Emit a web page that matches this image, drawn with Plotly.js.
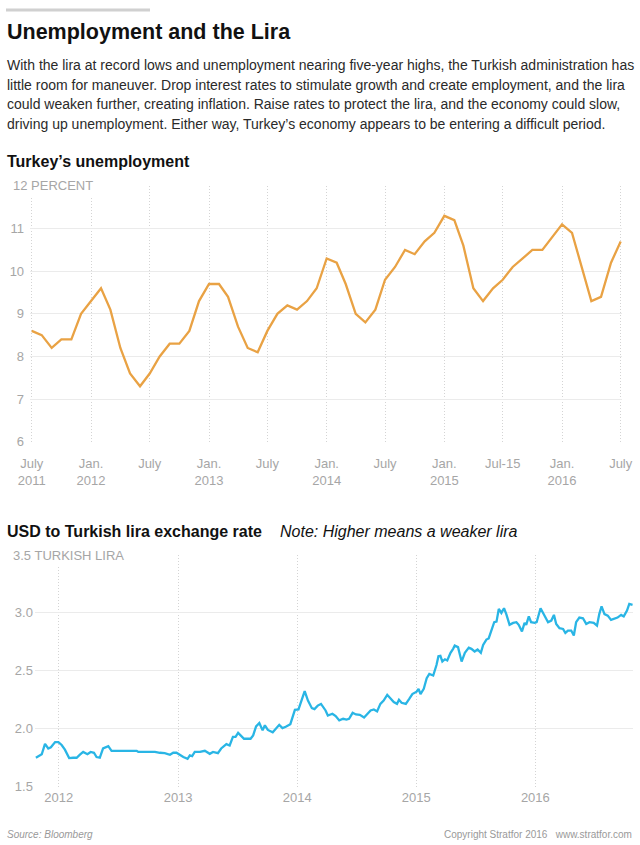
<!DOCTYPE html>
<html>
<head>
<meta charset="utf-8">
<script src="https://cdn.plot.ly/plotly-3.0.1.min.js"></script>
<style>html,body{margin:0;padding:0;background:#fff;}#chart{width:640px;height:845px;}</style>
</head>
<body>
<div id="chart"></div>
<script>
// ---------- Data ----------
const unempMonths = ['2011-07','2011-08','2011-09','2011-10','2011-11','2011-12',
  '2012-01','2012-02','2012-03','2012-04','2012-05','2012-06','2012-07','2012-08','2012-09','2012-10','2012-11','2012-12',
  '2013-01','2013-02','2013-03','2013-04','2013-05','2013-06','2013-07','2013-08','2013-09','2013-10','2013-11','2013-12',
  '2014-01','2014-02','2014-03','2014-04','2014-05','2014-06','2014-07','2014-08','2014-09','2014-10','2014-11','2014-12',
  '2015-01','2015-02','2015-03','2015-04','2015-05','2015-06','2015-07','2015-08','2015-09','2015-10','2015-11','2015-12',
  '2016-01','2016-02','2016-03','2016-04','2016-05','2016-06','2016-07'];
const unempRate = [8.6,8.5,8.2,8.4,8.4,9.0,
  9.3,9.6,9.1,8.2,7.6,7.3,7.6,8.0,8.3,8.3,8.6,9.3,
  9.7,9.7,9.4,8.7,8.2,8.1,8.6,9.0,9.2,9.1,9.3,9.6,
  10.3,10.2,9.7,9.0,8.8,9.1,9.8,10.1,10.5,10.4,10.7,10.9,
  11.3,11.2,10.6,9.6,9.3,9.6,9.8,10.1,10.3,10.5,10.5,10.8,
  11.1,10.9,10.1,9.3,9.4,10.2,10.7];
const unempTickVals = ['2011-07-01','2012-01-01','2012-07-01','2013-01-01','2013-07-01','2014-01-01','2014-07-01','2015-01-01','2015-07-01','2016-01-01','2016-07-01'];
const unempTickText = ['July<br>2011','Jan.<br>2012','July','Jan.<br>2013','July','Jan.<br>2014','July','Jan.<br>2015','Jul-15','Jan.<br>2016','July'];
const unempYTicks = [6,7,8,9,10,11,12];
const unempYText = ['6','7','8','9','10','11',''];

const fxDates = ['2011-10-23','2011-11-10','2011-11-20','2011-11-30','2011-12-08','2011-12-21','2011-12-31',
  '2012-01-10','2012-01-20','2012-02-02','2012-02-14','2012-02-25','2012-03-06','2012-03-16','2012-03-29','2012-04-08','2012-04-18','2012-04-26',
  '2012-05-06','2012-05-16','2012-06-01','2012-06-11','2012-06-26','2012-07-17','2012-08-06','2012-08-27','2012-09-01','2012-09-26',
  '2012-10-06','2012-10-22','2012-11-06','2012-11-21','2012-12-07','2012-12-17','2012-12-27',
  '2013-01-07','2013-01-17','2013-01-30','2013-02-06','2013-02-13','2013-02-21','2013-03-09','2013-03-24','2013-04-08','2013-04-18',
  '2013-05-03','2013-05-13','2013-05-29','2013-06-08','2013-06-18','2013-06-26','2013-07-04','2013-07-14','2013-07-22','2013-08-03',
  '2013-08-11','2013-08-19','2013-08-28','2013-09-07','2013-09-17','2013-09-24','2013-10-03','2013-10-18','2013-10-28','2013-11-07',
  '2013-11-17','2013-11-27','2013-12-11','2013-12-18','2013-12-25',
  '2014-01-05','2014-01-13','2014-01-24','2014-02-03','2014-02-15','2014-02-23','2014-03-05','2014-03-15','2014-03-29','2014-04-05',
  '2014-04-19','2014-04-29','2014-05-10','2014-05-22','2014-06-01','2014-06-09','2014-06-20','2014-06-30','2014-07-12','2014-07-25',
  '2014-08-04','2014-08-14','2014-08-24','2014-09-03','2014-09-13','2014-09-23','2014-10-04','2014-10-14','2014-10-24','2014-11-03',
  '2014-11-09','2014-11-17','2014-11-30','2014-12-10','2014-12-20',
  '2015-01-02','2015-01-08','2015-01-14','2015-01-24','2015-02-02','2015-02-10','2015-02-22','2015-03-04','2015-03-10','2015-03-16',
  '2015-03-22','2015-03-30','2015-04-06','2015-04-16','2015-04-24','2015-04-29','2015-05-09','2015-05-20','2015-05-30','2015-06-11',
  '2015-06-19','2015-06-29','2015-07-08','2015-07-18','2015-07-25','2015-08-04','2015-08-11','2015-08-19','2015-08-28','2015-09-04',
  '2015-09-11','2015-09-19','2015-09-27','2015-10-04','2015-10-14','2015-10-25','2015-11-04','2015-11-11','2015-11-21','2015-11-29',
  '2015-12-04','2015-12-12','2015-12-19','2015-12-30',
  '2016-01-05','2016-01-17','2016-01-27','2016-02-09','2016-02-19','2016-02-27','2016-03-05','2016-03-15','2016-03-26','2016-04-02',
  '2016-04-10','2016-04-20','2016-04-28','2016-05-05','2016-05-15','2016-05-26','2016-06-05','2016-06-15','2016-06-28','2016-07-08',
  '2016-07-15','2016-07-22','2016-07-31','2016-08-10','2016-08-20','2016-08-30','2016-09-09','2016-09-20','2016-09-28','2016-10-08',
  '2016-10-15','2016-10-25'];
const fxRate = [1.75,1.78,1.87,1.83,1.84,1.885,1.885,
  1.86,1.82,1.747,1.75,1.75,1.776,1.80,1.78,1.80,1.793,1.756,
  1.75,1.83,1.85,1.81,1.81,1.81,1.81,1.81,1.80,1.80,
  1.805,1.80,1.793,1.79,1.776,1.793,1.793,
  1.77,1.756,1.74,1.77,1.764,1.80,1.80,1.81,1.784,1.80,
  1.79,1.83,1.868,1.856,1.93,1.93,1.965,1.94,1.914,1.914,
  1.914,1.943,2.02,2.05,1.986,2.03,1.99,1.97,2.0,2.034,
  2.006,2.017,2.04,2.10,2.164,
  2.167,2.24,2.325,2.244,2.178,2.17,2.20,2.215,2.158,2.115,
  2.13,2.11,2.072,2.086,2.08,2.086,2.138,2.124,2.12,2.098,
  2.13,2.158,2.167,2.15,2.215,2.244,2.293,2.264,2.23,2.215,
  2.25,2.224,2.215,2.256,2.30,
  2.32,2.345,2.30,2.345,2.437,2.474,2.46,2.55,2.626,2.63,
  2.58,2.60,2.59,2.655,2.69,2.718,2.705,2.58,2.655,2.70,
  2.69,2.667,2.684,2.655,2.724,2.77,2.78,2.848,2.92,2.925,
  3.034,3.0,3.04,2.99,2.897,2.914,2.92,2.897,2.84,2.914,
  2.897,2.97,2.92,2.914,
  2.92,3.04,2.99,2.92,2.934,2.983,2.905,2.868,2.862,2.828,
  2.848,2.848,2.805,2.92,2.96,2.954,2.905,2.92,2.914,2.89,
  2.99,3.057,2.99,2.977,2.94,2.948,2.96,2.983,2.97,3.02,
  3.078,3.07];
const fxTickVals = ['2012-01-01','2013-01-01','2014-01-01','2015-01-01','2016-01-01'];
const fxTickText = ['2012','2013','2014','2015','2016'];
const fxYTicks = [1.5,2.0,2.5,3.0,3.5];
const fxYText = ['1.5','2.0','2.5','3.0',''];

const paragraph = [
  'With the lira at record lows and unemployment nearing five-year highs, the Turkish administration has',
  'little room for maneuver. Drop interest rates to stimulate growth and create employment, and the lira',
  'could weaken further, creating inflation. Raise rates to protect the lira, and the economy could slow,',
  'driving up unemployment. Either way, Turkey\u2019s economy appears to be entering a difficult period.'
];

// ---------- Layout helpers ----------
const W = 640, H = 845;
const px = x => x / W;
const py = y => 1 - y / H;
const FONT = 'Liberation Sans, Helvetica, Arial, sans-serif';
const GREY = '#a6a6a6';

const annotations = [];
function txt(text, x, y, opts) {
  annotations.push(Object.assign({
    text: text, xref: 'paper', yref: 'paper', x: px(x), y: py(y),
    xanchor: 'left', yanchor: 'middle', showarrow: false,
    font: {family: FONT, size: 14, color: '#222'}
  }, opts || {}));
}
txt('<b>Unemployment and the Lira</b>', 5, 32, {font: {family: FONT, size: 21.5, color: '#111'}});
paragraph.forEach((line, i) => txt(line, 5, 65 + i * 19.6, {font: {family: FONT, size: 14, color: '#2a2a2a'}}));
txt('<b>Turkey\u2019s unemployment</b>', 5, 161, {font: {family: FONT, size: 16, color: '#111'}});
txt('<b>USD to Turkish lira exchange rate</b>', 5, 531, {font: {family: FONT, size: 16, color: '#111'}});
txt('<i>Note: Higher means a weaker lira</i>', 278, 531, {font: {family: FONT, size: 16, color: '#111'}});
txt('12 PERCENT', 9, 186, {font: {family: FONT, size: 13, color: GREY}, bgcolor: '#fff', borderpad: 3});
txt('3.5 TURKISH LIRA', 9, 555, {font: {family: FONT, size: 13, color: GREY}, bgcolor: '#fff', borderpad: 3});
txt('<i>Source: Bloomberg</i>', 5, 834, {font: {family: FONT, size: 10, color: '#999'}});
txt('Copyright Stratfor 2016   www.stratfor.com', 634, 834, {xanchor: 'right', font: {family: FONT, size: 10, color: '#999'}});

const tickFont = {family: FONT, size: 13, color: GREY};

const traces = [
  {x: unempMonths, y: unempRate, type: 'scatter', mode: 'lines', xaxis: 'x', yaxis: 'y',
   line: {color: '#e9a244', width: 2.3}, hoverinfo: 'x+y'},
  {x: fxDates, y: fxRate, type: 'scatter', mode: 'lines', xaxis: 'x2', yaxis: 'y2',
   line: {color: '#29b5e5', width: 2.3}, hoverinfo: 'x+y'}
];

const layout = {
  width: W, height: H,
  margin: {l: 0, r: 0, t: 0, b: 0},
  paper_bgcolor: '#fff', plot_bgcolor: '#fff',
  showlegend: false,
  font: {family: FONT},
  xaxis: {type: 'date', range: ['2011-06-26', '2016-07-06'], domain: [px(30.1), px(622.3)], anchor: 'y',
    tickvals: unempTickVals, ticktext: unempTickText, ticks: '', tickfont: tickFont,
    showgrid: true, gridcolor: '#d4d4d4', griddash: '1px,2px', gridwidth: 1,
    zeroline: false, showline: false, fixedrange: true, ticklabelstandoff: 12},
  yaxis: {range: [6, 12], domain: [py(441.7), py(186)], anchor: 'x',
    tickvals: unempYTicks, ticktext: unempYText, ticks: '', tickfont: tickFont,
    showgrid: true, gridcolor: '#ebebeb', gridwidth: 1, zeroline: false, showline: false, fixedrange: true,
    ticklabelstandoff: 5},
  xaxis2: {type: 'date', range: ['2011-10-20', '2016-10-27'], domain: [px(34.9), px(633.2)], anchor: 'y2',
    tickvals: fxTickVals, ticktext: fxTickText, ticks: '', tickfont: tickFont,
    showgrid: true, gridcolor: '#d4d4d4', griddash: '1px,2px', gridwidth: 1,
    zeroline: false, showline: false, fixedrange: true, ticklabelstandoff: 1},
  yaxis2: {range: [1.5, 3.5], domain: [py(786.7), py(555)], anchor: 'x2',
    tickvals: fxYTicks, ticktext: fxYText, ticks: '', tickfont: tickFont,
    showgrid: true, gridcolor: '#ebebeb', gridwidth: 1, zeroline: false, showline: false, fixedrange: true,
    ticklabelstandoff: 1},
  shapes: [
    {type: 'rect', xref: 'paper', yref: 'paper', x0: px(6), x1: px(150), y0: py(11.5), y1: py(8.5),
     fillcolor: '#d0d0d0', line: {width: 0}}
  ],
  annotations: annotations
};

Plotly.newPlot('chart', traces, layout, {displayModeBar: false, staticPlot: true});
</script>
</body>
</html>
